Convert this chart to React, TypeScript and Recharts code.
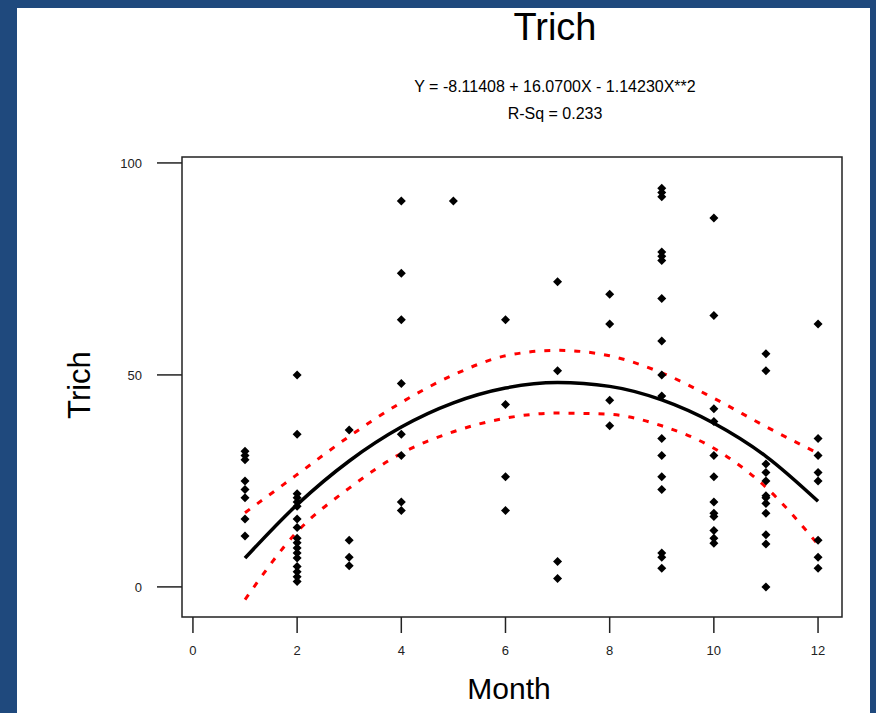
import { ComposedChart, Scatter, Line, XAxis, YAxis, ReferenceArea } from 'recharts';

// months on the x axis
const months = [1, 2, 3, 4, 5, 6, 7, 8, 9, 10, 11, 12];

// observed Trich values, one list per month
const month1 = [32, 31, 30, 25, 23, 21, 16, 12];
const month2 = [50, 36, 22, 21, 20, 19, 16, 14, 11.5, 10.4, 9.2, 8, 6.8, 4.8, 3.6, 2.4, 1.3];
const month3 = [37, 11, 7, 5];
const month4 = [91, 74, 63, 48, 36, 31, 20, 18];
const month5 = [91];
const month6 = [63, 43, 26, 18];
const month7 = [72, 51, 6, 2];
const month8 = [69, 62, 44, 38];
const month9 = [94, 93, 92, 79, 78, 77, 68, 58, 50, 45, 35, 31, 26, 23, 8, 7, 4.4];
const month10 = [87, 64, 42, 39, 31, 26, 20, 17.4, 16.6, 13.3, 11.5, 10.3];
const month11 = [55, 51, 29, 27, 25, 21.5, 21, 19.7, 17.4, 12.3, 10.1, 0];
const month12 = [62, 35, 31, 27, 25, 11, 7, 4.4];
const valuesByMonth = [month1, month2, month3, month4, month5, month6, month7, month8, month9, month10, month11, month12];

// fitted curve and its confidence limits, read at each month
const fit = [6.8, 19.4, 29.7, 37.7, 43.4, 46.9, 48.2, 47.3, 44.1, 38.6, 30.8, 20.2];
const upper = [17.5, 26.5, 35.5, 43.5, 50, 54.5, 55.8, 54.5, 50.5, 44.5, 37.8, 31.5];
const lower = [-3, 13, 23.3, 31.5, 36.6, 39.8, 41, 40.7, 38, 32.7, 23.5, 10];

const xTicks = [0, 2, 4, 6, 8, 10, 12];
const yTicks = [0, 50, 100];

const points = months.flatMap((m, i) => valuesByMonth[i].map((v) => ({ month: m, trich: v })));
const curve = months.map((m, i) => ({ month: m, fit: fit[i], upper: upper[i], lower: lower[i] }));

const FONT = '"Liberation Sans", Arial, sans-serif';
const X_DOMAIN: [number, number] = [-0.21, 12.46];
const Y_DOMAIN: [number, number] = [-7.1, 101.4];

const Diamond = (props: any) => {
  const { cx, cy } = props;
  const r = 4.5;
  return <path d={`M${cx},${cy - r}L${cx + r},${cy}L${cx},${cy + r}L${cx - r},${cy}Z`} fill="#000" />;
};

export default function App() {
  return (
    <div style={{ position: 'absolute', left: 0, top: 0, width: 876, height: 713, background: '#1F497D', fontFamily: FONT }}>
      <div style={{ position: 'absolute', left: 17, top: 8, width: 853, height: 705, background: '#fff' }} />
      <div style={{ position: 'absolute', left: 355, width: 400, top: 6, textAlign: 'center', fontSize: 38, color: '#000' }}>Trich</div>
      <div style={{ position: 'absolute', left: 355, width: 400, top: 78, textAlign: 'center', fontSize: 16, color: '#000' }}>
        Y = -8.11408 + 16.0700X - 1.14230X**2
      </div>
      <div style={{ position: 'absolute', left: 355, width: 400, top: 105, textAlign: 'center', fontSize: 16, color: '#000' }}>R-Sq = 0.233</div>
      <div style={{ position: 'absolute', left: 0, top: 0 }}>
        <ComposedChart width={876} height={713} data={curve} margin={{ top: 157, right: 34, bottom: 56, left: 122 }}>
          <XAxis
            type="number"
            dataKey="month"
            domain={X_DOMAIN}
            ticks={xTicks}
            allowDataOverflow
            axisLine={false}
            tickSize={16}
            tickMargin={13}
            height={40}
            tickLine={{ stroke: '#222', strokeWidth: 1.5 }}
            tick={{ fill: '#222', fontSize: 13, fontFamily: FONT }}
          />
          <YAxis
            type="number"
            domain={Y_DOMAIN}
            ticks={yTicks}
            allowDataOverflow
            axisLine={false}
            width={60}
            tickSize={25}
            tickMargin={15}
            tickLine={{ stroke: '#222', strokeWidth: 1.5 }}
            tick={{ fill: '#222', fontSize: 13, fontFamily: FONT }}
          />
          <ReferenceArea x1={X_DOMAIN[0]} x2={X_DOMAIN[1]} y1={Y_DOMAIN[0]} y2={Y_DOMAIN[1]} fill="none" stroke="#222" strokeWidth={1.5} ifOverflow="visible" />
          <Scatter data={points} dataKey="trich" shape={<Diamond />} isAnimationActive={false} />
          <Line type="monotone" dataKey="upper" stroke="#ff0000" strokeWidth={3} strokeDasharray="6 9" dot={false} isAnimationActive={false} />
          <Line type="monotone" dataKey="lower" stroke="#ff0000" strokeWidth={3} strokeDasharray="6 9" dot={false} isAnimationActive={false} />
          <Line type="monotone" dataKey="fit" stroke="#000" strokeWidth={3.5} dot={false} isAnimationActive={false} />
        </ComposedChart>
      </div>
      <div style={{ position: 'absolute', left: 30, top: 367, width: 100, textAlign: 'center', fontSize: 31, color: '#000', transform: 'rotate(-90deg)', lineHeight: '36px' }}>
        Trich
      </div>
      <div style={{ position: 'absolute', left: 409, width: 200, top: 672, textAlign: 'center', fontSize: 30, color: '#000' }}>Month</div>
    </div>
  );
}
